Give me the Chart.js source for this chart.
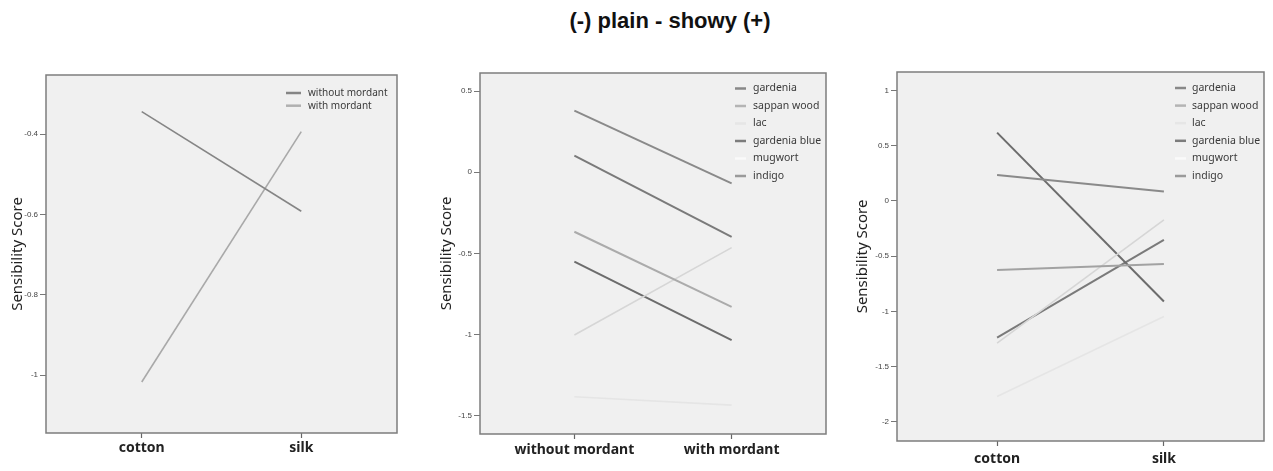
<!DOCTYPE html>
<html>
<head>
<meta charset="utf-8">
<script src="https://cdn.jsdelivr.net/npm/chart.js@4.4.1/dist/chart.umd.min.js"></script>
<style>
  html, body { margin: 0; padding: 0; background: #ffffff; }
  #page { position: relative; width: 1273px; height: 471px; overflow: hidden; }
  #title { position: absolute; left: 470px; top: 8px; width: 400px; text-align: center;
           font: bold 22px "Liberation Sans", Arial, sans-serif; color: #111; }
  canvas { position: absolute; left: 0; top: 0; }
</style>
</head>
<body>
<div id="page">
  <div id="title">(-) plain - showy (+)</div>
  <canvas id="c1" width="1273" height="471"></canvas>
  <canvas id="c2" width="1273" height="471"></canvas>
  <canvas id="c3" width="1273" height="471"></canvas>
</div>
<script>
'use strict';

// panel 1 : fabric x mordant
let fabricLabels = ['cotton', 'silk'];
let mordantNames = ['without mordant', 'with mordant'];
let withoutMordant = [-0.344, -0.592];
let withMordant = [-1.017, -0.394];
let yTicks1 = [-1, -0.8, -0.6, -0.4];

// panel 2 : mordant x dye
let mordantLabels = ['without mordant', 'with mordant'];
let dyeNames = ['gardenia', 'sappan wood', 'lac', 'gardenia blue', 'mugwort', 'indigo'];
let dyeColors = ['#8a8a8a', '#ababab', '#d6d6d6', '#6c6c6c', '#e5e5e5', '#7a7a7a'];
let legendColors = ['#888888', '#b4b4b4', '#e6e6e6', '#7c7c7c', '#fafafa', '#9a9a9a'];
let gardenia2 = [0.379, -0.068];
let sappan2 = [-0.366, -0.828];
let lac2 = [-1.002, -0.464];
let gardeniaBlue2 = [-0.55, -1.033];
let mugwort2 = [-1.382, -1.433];
let indigo2 = [0.102, -0.397];
let yTicks2 = [-1.5, -1, -0.5, 0, 0.5];

// panel 3 : fabric x dye
let gardenia3 = [0.235, 0.084];
let sappan3 = [-0.624, -0.570];
let lac3 = [-1.287, -0.172];
let gardeniaBlue3 = [0.618, -0.910];
let mugwort3 = [-1.769, -1.046];
let indigo3 = [-1.236, -0.353];
let yTicks3 = [-2, -1.5, -1, -0.5, 0, 0.5, 1];

function toPoints(values) {
    let pts = [];
    for (let i = 0; i < values.length; i++) {
        pts.push({x: i, y: values[i]});
    }
    return pts;
}

function makeSet(label, values, color, width) {
    return {
        label: label,
        data: toPoints(values),
        borderColor: color,
        backgroundColor: color,
        borderWidth: width,
        pointRadius: 0,
        tension: 0
    };
}

// grey plot box, frame and a legend drawn inside the plot
let panelPlugin = {
    id: 'panel',
    beforeDraw(chart) {
        let a = chart.chartArea;
        let ctx = chart.ctx;
        ctx.save();
        ctx.fillStyle = '#f0f0f0';
        ctx.fillRect(a.left, a.top, a.right - a.left, a.bottom - a.top);
        ctx.restore();
    },
    afterDraw(chart) {
        let a = chart.chartArea;
        let ctx = chart.ctx;
        let o = chart.options.plugins.panel;
        ctx.save();
        ctx.strokeStyle = '#7d7d7d';
        ctx.lineWidth = 1.5;
        ctx.strokeRect(a.left, a.top, a.right - a.left, a.bottom - a.top);
        ctx.font = o.fontSize + 'px "Noto Sans", "DejaVu Sans", sans-serif';
        ctx.textBaseline = 'middle';
        for (let i = 0; i < o.names.length; i++) {
            let y = a.top + o.top + i * o.rowGap;
            ctx.strokeStyle = o.colors[i];
            ctx.lineWidth = 2.5;
            ctx.beginPath();
            ctx.moveTo(a.right - o.sampleStart, y);
            ctx.lineTo(a.right - o.sampleEnd, y);
            ctx.stroke();
            ctx.fillStyle = '#3a3a3a';
            ctx.fillText(o.names[i], a.right - o.textStart, y);
        }
        ctx.restore();
    }
};

function makeOptions(cfg) {
    return {
        responsive: false,
        animation: false,
        layout: { padding: cfg.padding },
        plugins: {
            legend: { display: false },
            tooltip: { enabled: false },
            panel: cfg.legend
        },
        scales: {
            x: {
                type: 'linear',
                min: -0.6,
                max: 1.6,
                afterBuildTicks: function (scale) {
                    scale.ticks = cfg.xLabels.map(function (l, i) { return {value: i}; });
                },
                afterFit: function (scale) { scale.height = cfg.xHeight; },
                ticks: {
                    callback: function (v) { return cfg.xLabels[v]; },
                    color: '#222222',
                    padding: cfg.xPad,
                    maxRotation: 0,
                    font: { family: '"Noto Sans", "DejaVu Sans", sans-serif', size: 14, weight: 'bold' }
                },
                grid: { drawOnChartArea: false, drawTicks: true, tickLength: 5, color: '#666666', tickWidth: 1.2 },
                border: { display: false }
            },
            y: {
                type: 'linear',
                min: cfg.yMin,
                max: cfg.yMax,
                afterBuildTicks: function (scale) {
                    scale.ticks = cfg.yTicks.map(function (v) { return {value: v}; });
                },
                afterFit: function (scale) { scale.width = 46; },
                ticks: {
                    callback: function (v) { return String(v); },
                    color: '#444444',
                    padding: 2,
                    font: { family: '"Liberation Sans", Arial, sans-serif', size: 8 }
                },
                grid: { drawOnChartArea: false, drawTicks: true, tickLength: 6, color: '#777777' },
                border: { display: false },
                title: {
                    display: true,
                    text: 'Sensibility Score',
                    color: '#222222',
                    padding: { top: cfg.titlePad, bottom: 0 },
                    font: { family: '"Noto Sans", "DejaVu Sans", sans-serif', size: 15 }
                }
            }
        }
    };
}

new Chart(document.getElementById('c1').getContext('2d'), {
    type: 'line',
    data: {
        datasets: [
            makeSet(mordantNames[0], withoutMordant, '#858585', 1.6),
            makeSet(mordantNames[1], withMordant, '#a9a9a9', 1.6)
        ]
    },
    options: makeOptions({
        padding: { left: 0, right: 876, top: 75, bottom: 8 },
        xLabels: fabricLabels, xHeight: 30, xPad: 2,
        yMin: -1.144, yMax: -0.253, yTicks: yTicks1, titlePad: 9,
        legend: { names: mordantNames, colors: ['#858585', '#b0b0b0'], fontSize: 10,
                  top: 18, rowGap: 12.7, sampleStart: 111, sampleEnd: 96, textStart: 89 }
    }),
    plugins: [panelPlugin]
});

new Chart(document.getElementById('c2').getContext('2d'), {
    type: 'line',
    data: {
        datasets: [
            makeSet(dyeNames[0], gardenia2, dyeColors[0], 2),
            makeSet(dyeNames[1], sappan2, dyeColors[1], 2),
            makeSet(dyeNames[2], lac2, dyeColors[2], 1.6),
            makeSet(dyeNames[3], gardeniaBlue2, dyeColors[3], 2),
            makeSet(dyeNames[4], mugwort2, dyeColors[4], 1.6),
            makeSet(dyeNames[5], indigo2, dyeColors[5], 2)
        ]
    },
    options: makeOptions({
        padding: { left: 434, right: 447, top: 73, bottom: 7 },
        xLabels: mordantLabels, xHeight: 30, xPad: 3,
        yMin: -1.611, yMax: 0.611, yTicks: yTicks2, titlePad: 3.5,
        legend: { names: dyeNames, colors: legendColors, fontSize: 10.5,
                  top: 15.5, rowGap: 17.5, sampleStart: 91, sampleEnd: 80, textStart: 73 }
    }),
    plugins: [panelPlugin]
});

new Chart(document.getElementById('c3').getContext('2d'), {
    type: 'line',
    data: {
        datasets: [
            makeSet(dyeNames[0], gardenia3, dyeColors[0], 2),
            makeSet(dyeNames[1], sappan3, '#a2a2a2', 2),
            makeSet(dyeNames[2], lac3, dyeColors[2], 1.6),
            makeSet(dyeNames[3], gardeniaBlue3, dyeColors[3], 2),
            makeSet(dyeNames[4], mugwort3, dyeColors[4], 1.6),
            makeSet(dyeNames[5], indigo3, dyeColors[5], 2)
        ]
    },
    options: makeOptions({
        padding: { left: 851, right: 9, top: 72, bottom: 0 },
        xLabels: fabricLabels, xHeight: 30, xPad: 5,
        yMin: -2.172, yMax: 1.166, yTicks: yTicks3, titlePad: 3,
        legend: { names: dyeNames, colors: legendColors, fontSize: 10.5,
                  top: 16, rowGap: 17.6, sampleStart: 89, sampleEnd: 78, textStart: 72 }
    }),
    plugins: [panelPlugin]
});
</script>
</body>
</html>
